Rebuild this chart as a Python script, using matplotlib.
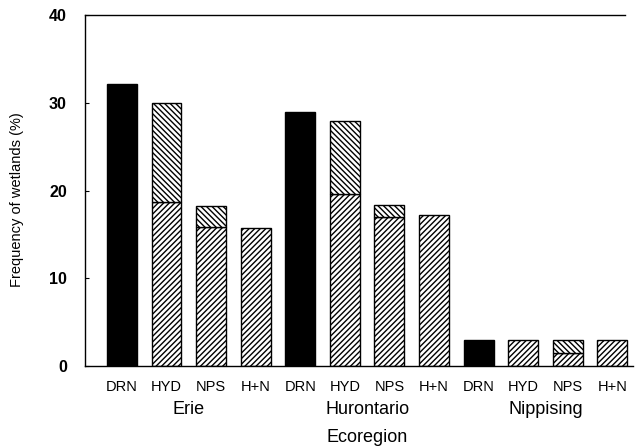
import numpy as np
import matplotlib
matplotlib.use('Agg')
import matplotlib.pyplot as plt

# wetland frequency (%) by ecoregion and classification method
regions = ['Erie', 'Hurontario', 'Nippising']
methods = ['DRN', 'HYD', 'NPS', 'H+N']

drn = [32.1, 29.0, 3.0]
hyd_total = [30.0, 27.9, 3.0]
hyd_shared = [18.7, 19.6, 3.0]   # part of HYD also picked by H+N
nps_total = [18.2, 18.4, 3.0]
nps_shared = [15.8, 17.0, 1.5]
hn = [15.7, 17.2, 3.0]

yticks = [0, 10, 20, 30, 40]


def show_plot(outfilename):
    plt.rcParams["font.family"] = ["Liberation Sans", "DejaVu Sans"]
    plt.rcParams['hatch.linewidth'] = 1.0

    fig = plt.figure(figsize=(6.36, 4.48), dpi=100)
    ax = fig.add_axes([0.1336, 0.183, 0.8614, 0.7835])

    width = 0.67
    kw = dict(width=width, edgecolor='black', linewidth=1.0)
    for g in range(len(regions)):
        x0 = 4 * g
        ax.bar(x0, drn[g], color='black', **kw)
        ax.bar(x0 + 1, hyd_shared[g], color='white', hatch='//////', **kw)
        if hyd_total[g] > hyd_shared[g]:
            ax.bar(x0 + 1, hyd_total[g] - hyd_shared[g], bottom=hyd_shared[g],
                   color='white', hatch='\\\\\\\\\\\\', **kw)
        ax.bar(x0 + 2, nps_shared[g], color='white', hatch='//////', **kw)
        ax.bar(x0 + 2, nps_total[g] - nps_shared[g], bottom=nps_shared[g],
               color='white', hatch='\\\\\\\\\\\\', **kw)
        ax.bar(x0 + 3, hn[g], color='white', hatch='//////', **kw)

    pos = np.arange(4 * len(regions))
    ax.set_xticks(pos)
    ax.set_xticklabels(methods * len(regions), fontsize=10.5)
    ax.tick_params(axis='x', length=0, pad=10)

    ax.set_xlim(-0.83, 11.46)
    ax.set_ylim(0, 40)
    ax.set_yticks(yticks)
    ax.set_yticklabels([str(t) for t in yticks], fontsize=11.5, fontweight='bold')
    ax.tick_params(axis='y', direction='in', length=3, pad=13)

    ax.spines['right'].set_visible(False)
    ax.spines['top'].set_bounds(-0.83, 11.28)
    for s in ['left', 'top', 'bottom']:
        ax.spines[s].set_linewidth(1.0)

    # ecoregion names under each group of bars
    trans = ax.get_xaxis_transform()
    for g, name in enumerate(regions):
        ax.text(4 * g + 1.5, -0.123, name, transform=trans, ha='center',
                va='center', fontsize=13)
    ax.text(5.5, -0.205, 'Ecoregion', transform=trans, ha='center',
            va='center', fontsize=13)

    fig.text(0.027, 0.554, 'Frequency of wetlands (%)', rotation=90,
             ha='center', va='center', fontsize=10.5)

    plt.savefig(outfilename, dpi=100)


if __name__ == '__main__':
    show_plot('out.png')
